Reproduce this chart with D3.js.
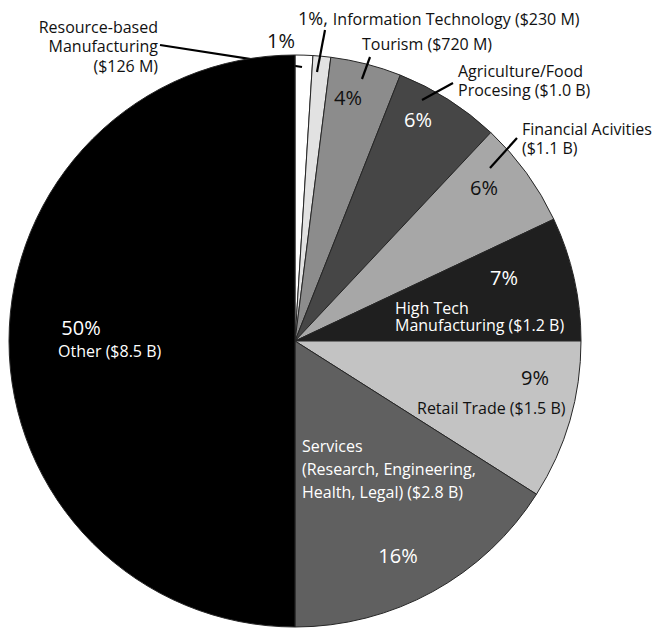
<!DOCTYPE html>
<html>
<head>
<meta charset="utf-8">
<script src="https://cdn.jsdelivr.net/npm/d3@7"></script>
<style>
  html, body { margin: 0; padding: 0; background: #fff; }
  svg text { font-family: "Open Sans", "Noto Sans", sans-serif; }
</style>
</head>
<body>
<svg id="chart" width="660" height="628"></svg>
<script>
// Sectors, clockwise from twelve o'clock
const categories = [
  "Resource-based Manufacturing",
  "Information Technology",
  "Tourism",
  "Agriculture/Food Procesing",
  "Financial Acivities",
  "High Tech Manufacturing",
  "Retail Trade",
  "Services (Research, Engineering, Health, Legal)",
  "Other"
];
const amounts = ["$126 M", "$230 M", "$720 M", "$1.0 B", "$1.1 B", "$1.2 B", "$1.5 B", "$2.8 B", "$8.5 B"];
const percents = [1, 1, 4, 6, 6, 7, 9, 16, 50];

// Grey shades per sector
const fills = ["#ffffff", "#e2e2e2", "#8c8c8c", "#464646", "#a7a7a7", "#1f1f1f", "#c3c3c3", "#606060", "#000000"];

const cx = 295, cy = 341, R = 286;

const svg = d3.select("#chart");
const g = svg.append("g").attr("transform", `translate(${cx},${cy})`);

const pie = d3.pie().sort(null).value(d => d);
const arcs = pie(percents);
const arc = d3.arc().innerRadius(0).outerRadius(R);

const OTHER = categories.length - 1;

function drawSlice(a) {
  g.append("path")
    .attr("d", arc(a))
    .attr("fill", fills[a.index])
    .attr("stroke", "#262626")
    .attr("stroke-width", 1)
    .attr("stroke-linejoin", "round");
}

// every sector except "Other" first, so the resource leader can slip underneath it
arcs.filter(a => a.index !== OTHER).forEach(drawSlice);

// leader lines (offsets from pie centre)
const leaders = [
  { from: [-135, -296], to: [7, -274] },   // Resource-based
  { from: [30, -311], to: [22, -269] },    // Information Technology
  { from: [75, -284], to: [67, -262] },    // Tourism
  { from: [158, -258], to: [127, -241] },  // Agriculture
  { from: [222, -203], to: [195, -173] }   // Financial
];
g.selectAll("line.leader").data(leaders).enter().append("line")
  .attr("class", "leader")
  .attr("x1", d => d.from[0]).attr("y1", d => d.from[1])
  .attr("x2", d => d.to[0]).attr("y2", d => d.to[1])
  .attr("stroke", "#000").attr("stroke-width", 2.2);

drawSlice(arcs[OTHER]);

// ---- labels ----
const labelSize = 16;
const pctSize = 20;
const T = svg.append("g");

function lines(x, y, rows, opts) {
  const t = T.append("text")
    .attr("x", x).attr("y", y)
    .attr("font-size", opts.size || labelSize)
    .attr("fill", opts.fill || "#111")
    .attr("text-anchor", opts.anchor || "start");
  rows.forEach((r, i) => {
    t.append("tspan").attr("x", x).attr("dy", i === 0 ? 0 : (opts.lh || 19)).text(r);
  });
  return t;
}
function pct(i, x, y, fill) {
  T.append("text").attr("x", x).attr("y", y)
    .attr("font-size", pctSize).attr("text-anchor", "middle")
    .attr("fill", fill).text(percents[i] + "%");
}

// Resource-based Manufacturing
lines(158, 32.5, ["Resource-based", "Manufacturing", "(" + amounts[0] + ")"], { anchor: "end", lh: 19.5 });
pct(0, 281, 48, "#111");

// Information Technology (percent inline)
{
  const t = T.append("text").attr("x", 298).attr("y", 24.5).attr("fill", "#111");
  t.append("tspan").attr("font-size", 18).text(percents[1] + "%,");
  t.append("tspan").attr("font-size", labelSize).attr("dx", 5).text(`${categories[1]} (${amounts[1]})`);
}

// Tourism
lines(362, 50, [`${categories[2]} (${amounts[2]})`], {});
pct(2, 348, 105, "#111");

// Agriculture / Food
lines(458, 77, ["Agriculture/Food", "Procesing (" + amounts[3] + ")"], { lh: 19 });
pct(3, 418, 127, "#fff");

// Financial
lines(522, 135, [categories[4], "(" + amounts[4] + ")"], { lh: 18.5 });
pct(4, 484, 195, "#111");

// High Tech
pct(5, 504, 285, "#fff");
lines(395, 313.5, ["High Tech", "Manufacturing (" + amounts[5] + ")"], { fill: "#fff", lh: 17.5 });

// Retail
pct(6, 535, 385, "#111");
lines(417, 414, [`${categories[6]} (${amounts[6]})`], {});

// Services
lines(302, 452, ["Services", "(Research, Engineering,", "Health, Legal) (" + amounts[7] + ")"], { fill: "#fff", lh: 23 });
pct(7, 398, 563, "#fff");

// Other
pct(8, 81, 335, "#fff");
lines(58, 357, [`${categories[8]} (${amounts[8]})`], { fill: "#fff" });
</script>
</body>
</html>
